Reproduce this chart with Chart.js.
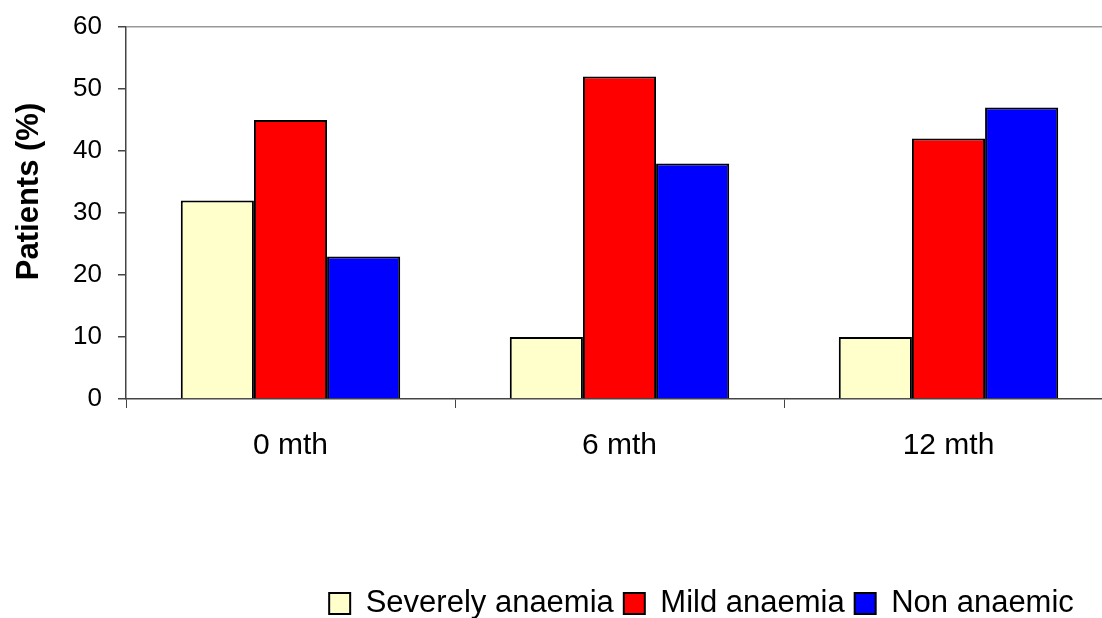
<!DOCTYPE html>
<html>
<head>
<meta charset="utf-8">
<script src="https://cdn.jsdelivr.net/npm/chart.js@4"></script>
<style>
  html, body { margin: 0; padding: 0; background: #fff; overflow: hidden; }
  #wrap { width: 1120px; height: 618px; }
</style>
</head>
<body>
<div id="wrap"><canvas id="bar__chart" width="1120" height="618"></canvas></div>
<script>
// Chart values
const months = ['0 mth', '6 mth', '12 mth'];
const severelyAnaemia = [32, 10, 10];
const mildAnaemia = [45, 52, 42];
const nonAnaemic = [23, 38, 47];
const yTicks = [0, 10, 20, 30, 40, 50, 60];

const fontName = '"Liberation Sans", Arial, sans-serif';

// moves the legend so it sits where the original has it
const shiftLegend = {
  id: 'shiftLegend',
  afterLayout(chart) {
    const lg = chart.legend;
    if (!lg) return;
    const dx = 145, dy = 11;
    lg.left += dx;
    lg.right += dx;
    lg.top += dy;
    lg.bottom += dy;
  }
};

const ctx = document.getElementById('bar__chart').getContext('2d');
const anaemiaChart = new Chart(ctx, {
  type: 'bar',
  data: {
    labels: months,
    datasets: [
      {
        label: 'Severely anaemia',
        data: severelyAnaemia,
        backgroundColor: '#FFFFCC',
        borderColor: '#000',
        borderWidth: 2,
      },
      {
        label: 'Mild anaemia',
        data: mildAnaemia,
        backgroundColor: '#FF0000',
        borderColor: '#000',
        borderWidth: 2,
      },
      {
        label: 'Non anaemic',
        data: nonAnaemic,
        backgroundColor: '#0000FF',
        borderColor: '#000',
        borderWidth: 2,
      }
    ]
  },
  options: {
    responsive: false,
    animation: false,
    categoryPercentage: 0.667,
    barPercentage: 1.0,
    layout: { padding: { top: 27, right: 7, left: 0, bottom: 0 } },
    plugins: {
      tooltip: { enabled: false },
      legend: {
        position: 'bottom',
        labels: {
          font: { family: fontName, size: 31 },
          color: '#000',
          boxWidth: 21,
          boxHeight: 21,
          padding: 10,
        }
      }
    },
    scales: {
      x: {
        afterFit: (scale) => { scale.height = 168; },
        border: { color: '#444', width: 1.5 },
        grid: {
          offset: true,
          drawOnChartArea: false,
          tickLength: 9,
          color: '#444',
        },
        ticks: {
          font: { family: fontName, size: 30 },
          color: '#000',
          padding: 20,
        }
      },
      y: {
        min: 0,
        max: 60,
        afterFit: (scale) => {
          scale.width = 126;
          scale.paddingTop = 0;
          scale.paddingBottom = 0;
        },
        afterBuildTicks: (scale) => { scale.ticks = yTicks.map(v => ({ value: v })); },
        border: { color: '#444', width: 1.5 },
        grid: {
          color: (c) => (c.tick && c.tick.value === 60 ? '#999' : 'rgba(0,0,0,0)'),
          tickColor: '#444',
          tickLength: 8,
          lineWidth: 1.5,
        },
        ticks: {
          font: { family: fontName, size: 26 },
          color: '#000',
          padding: 16,
        },
        title: {
          display: true,
          // leading spaces nudge the centred title up like in the original
          text: '     Patients (%)',
          font: { family: fontName, size: 31, weight: 'bold' },
          color: '#000',
          padding: { top: 11, bottom: 0 },
        }
      }
    }
  },
  plugins: [shiftLegend]
});
</script>
</body>
</html>
